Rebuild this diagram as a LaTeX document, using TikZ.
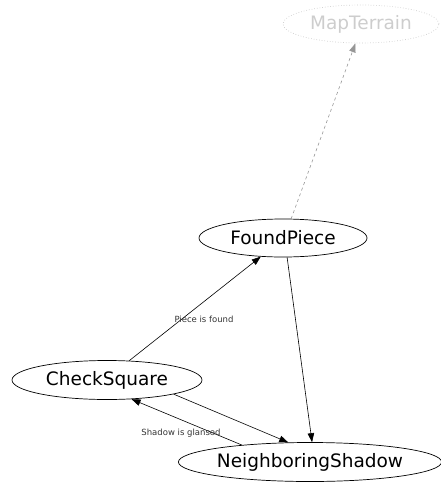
\documentclass[tikz,border=0pt]{standalone}
\usepackage{fontspec}
\setmainfont{DejaVu Sans}
\usetikzlibrary{shapes.geometric,arrows.meta}
\definecolor{ghost}{RGB}{205,205,205}
\definecolor{ghostedge}{RGB}{150,150,150}
\tikzset{
  state/.style={ellipse, draw, line width=0.7pt, inner sep=0pt, font=\fontsize{18.5}{22}\selectfont},
  ghoststate/.style={state, draw=ghost, dotted, text=ghost},
  edge/.style={line width=0.6pt, -{Triangle[length=9pt,width=6.5pt]}},
  ghostedge/.style={edge, draw=ghostedge, dashed, -{Triangle[length=9pt,width=6.5pt,fill=ghostedge]}},
  elabel/.style={font=\fontsize{8.5}{10}\selectfont, text=black!80, inner sep=0pt}
}
\begin{document}
\begin{tikzpicture}[x=1pt,y=-1pt]
\useasboundingbox (0,0) rectangle (441,482);
\node[ghoststate, minimum width=156pt, minimum height=38pt] (mt) at (361,24) {MapTerrain};
\node[state, minimum width=168pt, minimum height=38pt] (fp) at (283,238) {FoundPiece};
\node[state, minimum width=190pt, minimum height=39pt] (cs) at (107,380) {CheckSquare};
\node[state, minimum width=262pt, minimum height=39pt] (ns) at (310,462) {NeighboringShadow};
\draw[ghostedge] (fp.67) -- (mt.-106);
\draw[edge] (cs.41) -- (fp.-140);
\draw[edge] (fp.-78) -- (ns.84);
\draw[edge] (cs.-12) -- (ns.138);
\draw[edge] (ns.166) -- (cs.-38);
\node[elabel] (l1) at (204,319) {Piece is found};
\node[elabel] (l2) at (181,433) {Shadow is glansed};
\end{tikzpicture}
\end{document}
